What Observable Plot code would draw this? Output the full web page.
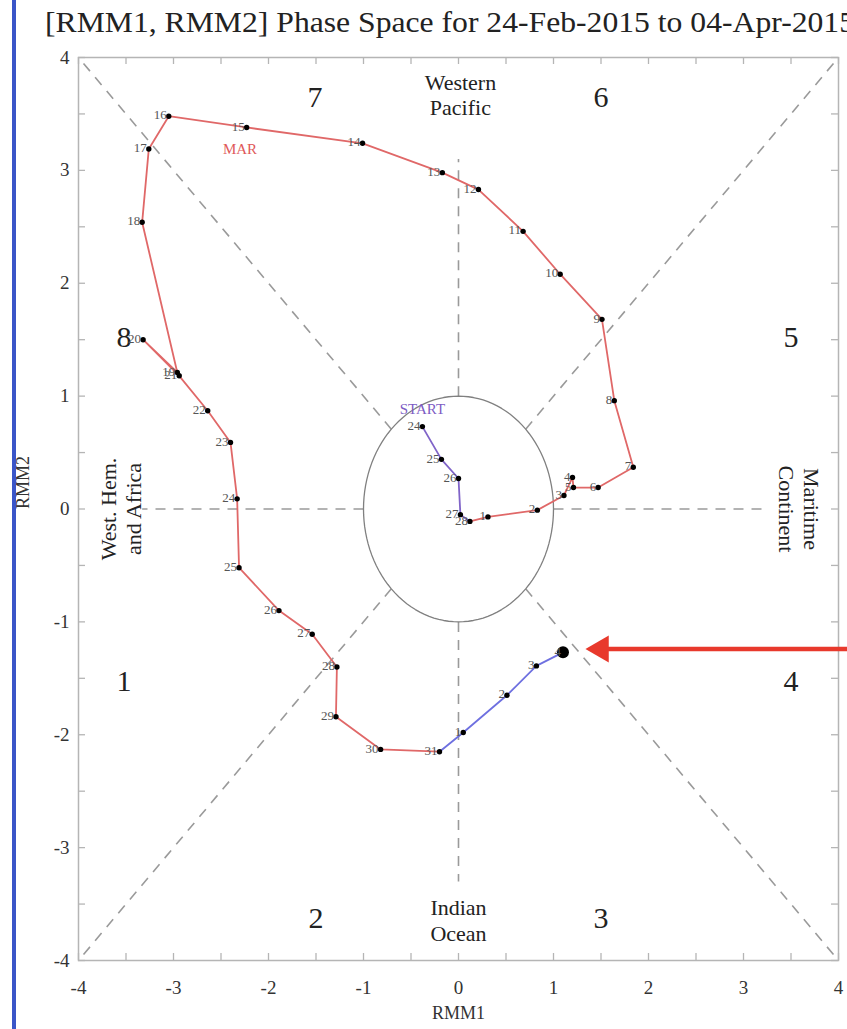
<!DOCTYPE html>
<html><head><meta charset="utf-8">
<script src="https://cdn.jsdelivr.net/npm/d3@7"></script>
<script src="https://cdn.jsdelivr.net/npm/@observablehq/plot@0.6"></script>
<style>
body{margin:0;background:#fff;overflow:hidden;width:847px;height:1029px;position:relative;font-family:"Liberation Serif",serif}
#bar{position:absolute;left:12px;top:0;width:4px;height:1029px;background:#3a55c8;z-index:2}
#title{height:45px;white-space:nowrap;font-size:30px;color:#222;padding-left:45px;line-height:44px;overflow:visible;font-family:"Liberation Serif",serif}
#title span{display:inline-block;transform-origin:left center}
#chart svg{display:block}
</style></head><body>
<div id="bar"></div>
<div id="title"><span id="t">[RMM1, RMM2] Phase Space for 24-Feb-2015 to 04-Apr-2015</span></div>
<div id="chart"></div>
<script>
// ---- data (RMM1 = x, RMM2 = y) ----
const febDays = [24, 25, 26, 27, 28];
const febX = [-0.38, -0.18, 0.00, 0.02, 0.12];
const febY = [0.73, 0.44, 0.27, -0.05, -0.11];

const marDays = [1,2,3,4,5,6,7,8,9,10,11,12,13,14,15,16,17,18,19,20,21,22,23,24,25,26,27,28,29,30,31];
const marX = [0.31,0.83,1.11,1.20,1.21,1.47,1.84,1.64,1.51,1.07,0.68,0.21,-0.17,-1.01,-2.23,-3.05,-3.26,-3.33,-2.96,-3.32,-2.94,-2.64,-2.40,-2.33,-2.31,-1.89,-1.54,-1.28,-1.29,-0.82,-0.20];
const marY = [-0.07,-0.01,0.12,0.28,0.19,0.19,0.37,0.96,1.68,2.08,2.46,2.83,2.98,3.24,3.38,3.48,3.19,2.54,1.21,1.50,1.18,0.87,0.59,0.09,-0.52,-0.90,-1.11,-1.40,-1.84,-2.13,-2.15];

const aprDays = [1, 2, 3, 4];
const aprX = [0.05, 0.51, 0.82, 1.10];
const aprY = [-1.98, -1.65, -1.39, -1.27];

const tickValues = [-4,-3,-2,-1,0,1,2,3,4];
const minorTicks = [-4,-3.5,-3,-2.5,-2,-1.5,-1,-0.5,0,0.5,1,1.5,2,2.5,3,3.5,4];

const phaseNums = ["1","2","3","4","5","6","7","8"];
const phaseX = [-3.52,-1.5,1.5,3.5,3.5,1.5,-1.51,-3.52];
const phaseY = [-1.53,-3.63,-3.63,-1.53,1.52,3.65,3.65,1.52];

const regionNames = ["Western\nPacific","Indian\nOcean","West. Hem.\nand Africa","Maritime\nContinent"];
const regionX = [0.02, 0.0, -3.56, 3.59];
const regionY = [3.67, -3.64, 0.0, 0.0];
const regionRotate = [0, 0, -90, 90];

// guide lines: angle (deg) and outer reach (radius) from unit circle
const guideAngles = [0,45,90,135,180,225,270,315];
const guideReach  = [3.25,5.657,3.1,5.657,3.33,5.657,3.3,5.657];

const monthLabels = ["START","MAR"];
const monthLabelX = [-0.38,-2.30];
const monthLabelY = [0.88,3.19];
const monthLabelColor = ["#7d5cc4","#e05a5a"];

const arrowY = -1.24, arrowFrom = 4.12, arrowTo = 1.56;

// ---- build ----
const feb = febDays.map((d,i)=>({day:d,x:febX[i],y:febY[i]}));
const mar = marDays.map((d,i)=>({day:d,x:marX[i],y:marY[i]}));
const apr = aprDays.map((d,i)=>({day:d,x:aprX[i],y:aprY[i]}));
const all = [...feb, ...mar, ...apr];
const rad = Math.PI/180;
const guides = guideAngles.map((a,i)=>({
  x1:Math.cos(a*rad), y1:Math.sin(a*rad),
  x2:guideReach[i]*Math.cos(a*rad), y2:guideReach[i]*Math.sin(a*rad)}));
const circle = d3.range(0,361,3).map(a=>({x:Math.cos(a*rad),y:Math.sin(a*rad)}));
const phases = phaseNums.map((t,i)=>({t,x:phaseX[i],y:phaseY[i]}));
const regions = regionNames.map((t,i)=>({t,x:regionX[i],y:regionY[i],r:regionRotate[i]}));
const mlabels = monthLabels.map((t,i)=>({t,x:monthLabelX[i],y:monthLabelY[i],c:monthLabelColor[i]}));

const W = 847, H = 984, mT = 12, mB = 69, mL = 78, mR = 9;
const pH = H - mT - mB, pW = W - mL - mR, tk = 7;

const chart = Plot.plot({
  width: W, height: H,
  marginTop: mT, marginBottom: mB, marginLeft: mL, marginRight: mR,
  x: {domain: [-4, 4]},
  y: {domain: [-4, 4]},
  style: {fontFamily: '"Liberation Serif", serif', fontSize: "18px", background: "white", color: "#222", overflow: "visible"},
  marks: [
    Plot.link(guides, {x1:"x1", y1:"y1", x2:"x2", y2:"y2", stroke:"#9a9a9a", strokeWidth:1.6, strokeDasharray:"10,8"}),
    Plot.line(circle, {x:"x", y:"y", stroke:"#808080", strokeWidth:1.3}),
    Plot.frame({stroke:"#b5b5b5", strokeWidth:1.5}),
    Plot.tickX(minorTicks, {x: d=>d, insetTop: pH - tk, stroke:"#b5b5b5", strokeWidth:1.3}),
    Plot.tickX(minorTicks, {x: d=>d, insetBottom: pH - tk, stroke:"#b5b5b5", strokeWidth:1.3}),
    Plot.tickY(minorTicks, {y: d=>d, insetRight: pW - tk, stroke:"#b5b5b5", strokeWidth:1.3}),
    Plot.tickY(minorTicks, {y: d=>d, insetLeft: pW - tk, stroke:"#b5b5b5", strokeWidth:1.3}),
    Plot.axisX({anchor:"bottom", ticks: tickValues, tickSize:0, tickPadding:20, tickFormat: d=>String(d), label:null, fontSize:19, fill:"#333"}),
    Plot.axisY({anchor:"left", ticks: tickValues, tickSize:0, tickPadding:9, tickFormat: d=>String(d), label:null, fontSize:19, fill:"#333"}),
    Plot.text(["RMM1"], {frameAnchor:"bottom", dy:58, fontSize:18, fill:"#333"}),
    Plot.text(["RMM2"], {frameAnchor:"left", rotate:-90, dx:-55, fontSize:18, fill:"#333"}),
    Plot.text(phases, {x:"x", y:"y", text:"t", fontSize:30, fill:"#222"}),
    Plot.text(regions, {x:"x", y:"y", text:"t", rotate:"r", fontSize:22, lineHeight:1.15, fill:"#222"}),
    Plot.line(feb, {x:"x", y:"y", stroke:"#8064c8", strokeWidth:1.8}),
    Plot.line([feb[feb.length-1], ...mar], {x:"x", y:"y", stroke:"#e06868", strokeWidth:1.8}),
    Plot.line([mar[mar.length-1], ...apr], {x:"x", y:"y", stroke:"#6e70e0", strokeWidth:1.8}),
    Plot.dot(all, {x:"x", y:"y", r:2.7, fill:"black"}),
    Plot.dot([apr[apr.length-1]], {x:"x", y:"y", r:6, fill:"black"}),
    Plot.text(all, {x:"x", y:"y", text:"day", textAnchor:"end", dx:-2, dy:-1, fontSize:13, fill:"#555"}),
    Plot.text(mlabels, {x:"x", y:"y", text:"t", fill:"c", fontSize:15}),
    Plot.link([{x1:arrowFrom, x2:arrowTo, y:arrowY}], {x1:"x1", x2:"x2", y1:"y", y2:"y", stroke:"#e8392c", strokeWidth:4.5}),
    Plot.dot([{x:arrowTo - 0.06, y:arrowY}], {x:"x", y:"y", symbol:"triangle", rotate:-90, r:10, fill:"#e8392c", stroke:"none"})
  ]
});
document.getElementById("chart").appendChild(chart);

// fit the title to the reference width
const t = document.getElementById("t");
const w = t.getBoundingClientRect().width;
t.style.transform = `scaleX(${810 / w})`;
</script>
</body></html>
